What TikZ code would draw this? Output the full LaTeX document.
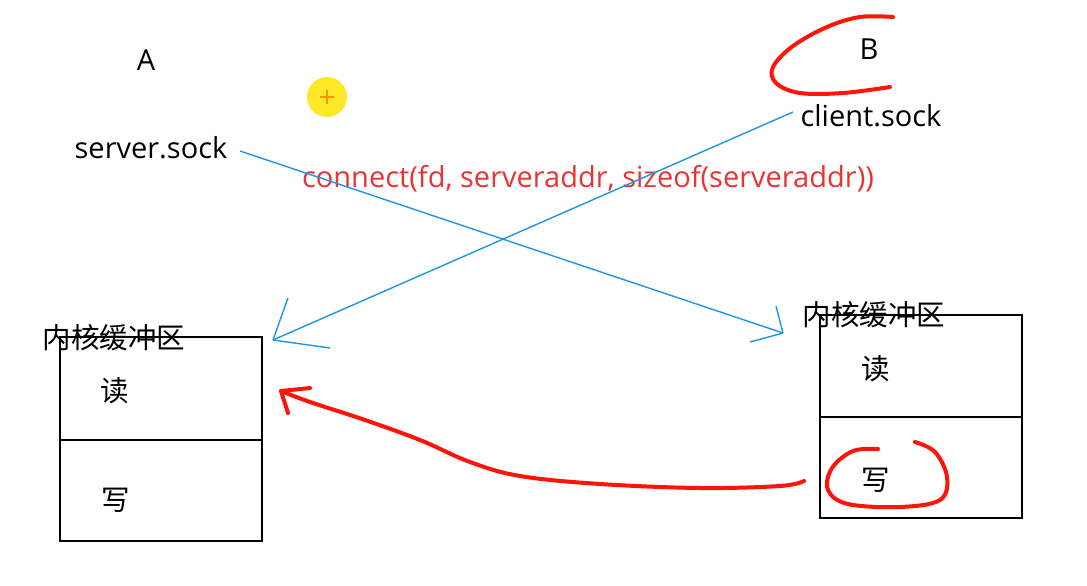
\documentclass[tikz,border=0pt]{standalone}
\usepackage{fontspec}
\setmainfont{Open Sans}
\newfontfamily\cjk{Noto Sans CJK SC}
\definecolor{bl}{RGB}{30,150,225}
\definecolor{rd}{RGB}{255,20,10}
\definecolor{txtred}{RGB}{232,52,52}
\definecolor{yel}{RGB}{255,232,40}
\definecolor{org}{RGB}{245,150,0}
\begin{document}
\begin{tikzpicture}[x=1pt,y=-1pt,
  lbl/.style={inner sep=0pt,font=\fontsize{29}{33}\selectfont},
  cj/.style={inner sep=0pt,font=\cjk\fontsize{28.5}{32}\selectfont},
  cell/.style={draw=black,line width=1.4pt,minimum width=202pt,inner sep=0pt},
  bline/.style={draw=bl,line width=1.4pt},
  rline/.style={draw=rd,line width=4pt,line cap=round,line join=round}]
\useasboundingbox (0,0) rectangle (1087,586);
\fill[white] (0,0) rectangle (1087,586);
% texts
\node[lbl] (A) at (146,60) {A};
\node[lbl] (B) at (869,49) {B};
\node[lbl] (ss) at (151,148) {server.sock};
\node[lbl] (cs) at (871,116) {client.sock};
\node[lbl,text=txtred] (conn) at (588,179) {connect(fd, serveraddr, sizeof(serveraddr))};
% boxes
\node[cell,minimum height=103pt] (lt) at (161,388.5) {};
\node[cell,minimum height=101pt] (lb) at (161,490.5) {};
\node[cell,minimum height=102pt] (rt) at (921,366) {};
\node[cell,minimum height=101pt] (rb) at (921,467.5) {};
\node[cj] (lk) at (114,338) {内核缓冲区};
\node[cj] (rk) at (874,315) {内核缓冲区};
\node[cj] (lr) at (115,391) {读};
\node[cj] (lw) at (116,500) {写};
\node[cj] (rr) at (876,369) {读};
\node[cj] (rw) at (876,480) {写};
% yellow marker
\node[circle,fill=yel,minimum size=40pt,inner sep=0pt] (ym) at (327,97) {};
\draw[org,line width=2pt] ([xshift=-7pt]ym.center) -- ([xshift=7pt]ym.center)
  ([yshift=-7pt]ym.center) -- ([yshift=7pt]ym.center);
% blue connectors
\coordinate (s1) at (240,151);
\coordinate (e1) at (783,333);
\coordinate (s2) at (793,112);
\coordinate (e2) at (273,340);
\draw[bline] (s1) -- (e1);
\draw[bline] (e1) -- (776,306) (e1) -- (750,342);
\draw[bline] (s2) -- (e2);
\draw[bline] (e2) -- (288,298) (e2) -- (330,348);
% red arrow
\coordinate (rs) at (804,481);
\coordinate (re) at (281,391);
\draw[rline] plot[smooth,tension=0.6] coordinates {(rs) (780,486) (700,488) (600,484) (520,476) (470,462) (420,440) (365,420) (310,402) (re)};
\draw[rline] (re) -- (310,388) (re) -- (288,413);
% red C around B
\draw[rline] plot[smooth,tension=0.6] coordinates {(893,17) (860,17) (827,27) (793,46) (773,67) (776,83) (800,93) (843,93) (890,87)};
% red loop around write
\draw[rline] plot[smooth,tension=0.6] coordinates {(878,449) (853,451) (832,468) (828,490) (848,504) (900,507) (940,500) (947,477) (935,452) (915,442)};
\end{tikzpicture}
\end{document}
